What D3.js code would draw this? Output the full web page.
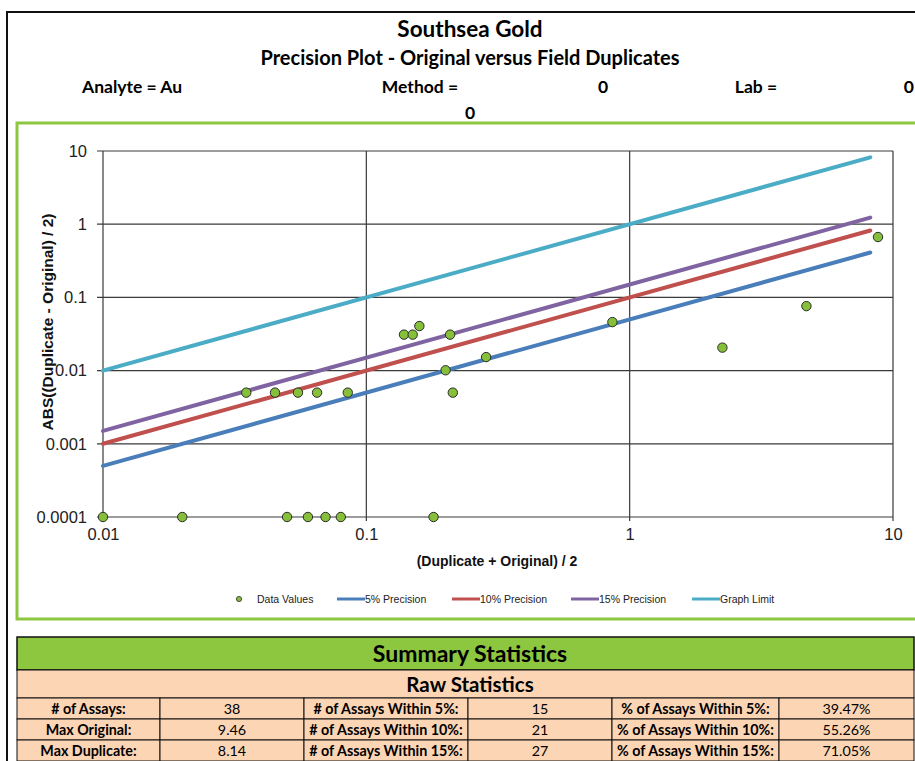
<!DOCTYPE html>
<html>
<head>
<meta charset="utf-8">
<script src="https://cdn.jsdelivr.net/npm/d3@7"></script>
<style>
  body { margin: 0; background: #fff; }
  svg { display: block; }
</style>
</head>
<body>
<div class="chart"></div>
<script>
//Chart values.
var avgValues = [0.01, 0.02, 0.05, 0.06, 0.07, 0.08, 0.18,
  0.035, 0.045, 0.055, 0.065, 0.085,
  0.139, 0.15, 0.159, 0.208, 0.2, 0.213,
  0.285, 0.86, 2.25, 4.69, 8.77];
var halfDiffValues = [0.0001, 0.0001, 0.0001, 0.0001, 0.0001, 0.0001, 0.0001,
  0.005, 0.005, 0.005, 0.005, 0.005,
  0.031, 0.031, 0.0406, 0.031, 0.0101, 0.005,
  0.0153, 0.046, 0.0206, 0.076, 0.668];

var lineNames = ["5% Precision", "10% Precision", "15% Precision", "Graph Limit"];
var lineFactors = [0.05, 0.10, 0.15, 1];
var lineRange = [0.01, 8.2];

var xTicks = [0.01, 0.1, 1, 10];
var xTickLabels = ["0.01", "0.1", "1", "10"];
var yTicks = [0.0001, 0.001, 0.01, 0.1, 1, 10];
var yTickLabels = ["0.0001", "0.001", "0.01", "0.1", "1", "10"];

var headerLines = ["Southsea Gold", "Precision Plot - Original versus Field Duplicates"];
var statLabels1 = ["# of Assays:", "Max Original:", "Max Duplicate:"];
var statValues1 = ["38", "9.46", "8.14"];
var statLabels2 = ["# of Assays Within 5%:", "# of Assays Within 10%:", "# of Assays Within 15%:"];
var statValues2 = ["15", "21", "27"];
var statLabels3 = ["% of Assays Within 5%:", "% of Assays Within 10%:", "% of Assays Within 15%:"];
var statValues3 = ["39.47%", "55.26%", "71.05%"];

//Colours
var lineColors = ["#4A7EBB", "#C0504D", "#8064A2", "#4BACC6"];
var pointFill = "#86BF3A";
var frameGreen = "#8DC63F";
var peach = "#FCD5B4";
var calibri = "Lato, 'Open Sans', sans-serif";
var arial = "'Liberation Sans', Arial, sans-serif";

var svgWidth = 915;
var svgHeight = 761;

var svg = d3.select(".chart")
  .append("svg")
  .attr("width", svgWidth)
  .attr("height", svgHeight);

//Outer sheet border (runs off to the right like the original).
svg.append("rect")
  .attr("x", 7).attr("y", 12)
  .attr("width", 1000).attr("height", 800)
  .attr("fill", "none")
  .attr("stroke", "#111")
  .attr("stroke-width", 2);

//Header texts
svg.append("text")
  .attr("x", 470).attr("y", 37)
  .attr("text-anchor", "middle")
  .style("font", "bold 22.5px " + calibri)
  .text(headerLines[0]);

svg.append("text")
  .attr("x", 470).attr("y", 65)
  .attr("text-anchor", "middle")
  .style("font", "bold 20px " + calibri)
  .text(headerLines[1]);

var infoRow = [
  {t: "Analyte = Au", x: 82, y: 93, a: "start"},
  {t: "Method =", x: 420, y: 93, a: "middle"},
  {t: "0", x: 603, y: 93, a: "middle"},
  {t: "Lab =", x: 756, y: 93, a: "middle"},
  {t: "0", x: 914, y: 93, a: "end"},
  {t: "0", x: 470, y: 119, a: "middle"}
];
svg.selectAll(".info")
  .data(infoRow)
  .enter().append("text")
  .attr("class", "info")
  .attr("x", function(d) { return d.x; })
  .attr("y", function(d) { return d.y; })
  .attr("text-anchor", function(d) { return d.a; })
  .style("font", "bold 17.5px " + calibri)
  .text(function(d) { return d.t; });

//Chart frame
svg.append("rect")
  .attr("x", 17).attr("y", 123)
  .attr("width", 1000).attr("height", 496)
  .attr("fill", "#fff")
  .attr("stroke", frameGreen)
  .attr("stroke-width", 3);

//Plot area
var margin = {top: 151, left: 103};
var chartWidth = 790;
var chartHeight = 366;

var chart = svg.append("g")
  .attr("transform", "translate(" + margin.left + "," + margin.top + ")");

var xScale = d3.scaleLog().domain([0.01, 10]).range([0, chartWidth]);
var yScale = d3.scaleLog().domain([0.0001, 10]).range([chartHeight, 0]);

//Gridlines
chart.selectAll(".vgrid")
  .data(xTicks)
  .enter().append("line")
  .attr("x1", function(d) { return xScale(d); })
  .attr("x2", function(d) { return xScale(d); })
  .attr("y1", 0).attr("y2", chartHeight + 4)
  .attr("stroke", "#3a3a3a").attr("stroke-width", 1.2);

chart.selectAll(".hgrid")
  .data(yTicks)
  .enter().append("line")
  .attr("x1", -6).attr("x2", chartWidth)
  .attr("y1", function(d) { return yScale(d); })
  .attr("y2", function(d) { return yScale(d); })
  .attr("stroke", "#3a3a3a").attr("stroke-width", 1.2);

//Tick labels
var bottomAxis = d3.axisBottom(xScale)
  .tickValues(xTicks)
  .tickFormat(function(d, i) { return xTickLabels[i]; })
  .tickSize(0).tickPadding(11);
var leftAxis = d3.axisLeft(yScale)
  .tickValues(yTicks)
  .tickFormat(function(d, i) { return yTickLabels[i]; })
  .tickSize(0).tickPadding(16);

var gx = chart.append("g")
  .attr("transform", "translate(0," + chartHeight + ")")
  .call(bottomAxis);
var gy = chart.append("g").call(leftAxis);
[gx, gy].forEach(function(g) {
  g.select(".domain").remove();
  g.selectAll("text")
    .style("font", "16.5px " + arial)
    .attr("fill", "#222");
});

//Axis titles
svg.append("text")
  .attr("transform", "translate(53,322) rotate(-90)")
  .attr("text-anchor", "middle")
  .style("font", "bold 15.5px " + arial)
  .attr("fill", "#111")
  .text("ABS((Duplicate - Original) / 2)");

svg.append("text")
  .attr("x", 497).attr("y", 566)
  .attr("text-anchor", "middle")
  .style("font", "bold 14px " + arial)
  .attr("fill", "#111")
  .text("(Duplicate + Original) / 2");

//Precision lines
var lineGen = d3.line()
  .x(function(d) { return xScale(d[0]); })
  .y(function(d) { return yScale(d[1]); });

chart.selectAll(".precision")
  .data(lineFactors)
  .enter().append("path")
  .attr("class", "precision")
  .attr("d", function(f) {
    return lineGen(lineRange.map(function(v) { return [v, v * f]; }));
  })
  .attr("fill", "none")
  .attr("stroke", function(d, i) { return lineColors[i]; })
  .attr("stroke-width", 4)
  .attr("stroke-linecap", "round");

//Data points
chart.selectAll(".pt")
  .data(avgValues)
  .enter().append("circle")
  .attr("class", "pt")
  .attr("cx", function(d) { return xScale(d); })
  .attr("cy", function(d, i) { return yScale(halfDiffValues[i]); })
  .attr("r", 4.7)
  .attr("fill", pointFill)
  .attr("stroke", "#2b2b2b")
  .attr("stroke-width", 1);

//Legend
var legendItems = [
  {name: "Data Values", x: 239, type: "point"},
  {name: lineNames[0], x: 337, type: 0},
  {name: lineNames[1], x: 452, type: 1},
  {name: lineNames[2], x: 571, type: 2},
  {name: lineNames[3], x: 692, type: 3}
];
var legend = svg.append("g").attr("transform", "translate(0,599)");
legendItems.forEach(function(d) {
  if (d.type === "point") {
    legend.append("circle")
      .attr("cx", d.x).attr("cy", 0).attr("r", 2.6)
      .attr("fill", pointFill).attr("stroke", "#2b2b2b").attr("stroke-width", 0.8);
    legend.append("text")
      .attr("x", d.x + 18).attr("y", 3.5)
      .style("font", "10.5px " + arial)
      .attr("fill", "#222")
      .text(d.name);
  } else {
    legend.append("line")
      .attr("x1", d.x).attr("x2", d.x + 28)
      .attr("y1", 0).attr("y2", 0)
      .attr("stroke", lineColors[d.type]).attr("stroke-width", 3);
    legend.append("text")
      .attr("x", d.x + 28).attr("y", 3.5)
      .style("font", "10.5px " + arial)
      .attr("fill", "#222")
      .text(d.name);
  }
});

//Summary table
var tableLeft = 17, tableRight = 914;
var colEdges = [17, 160, 304, 468, 612, 779, 914];
var rowEdges = [698, 719, 740, 761];

svg.append("rect")
  .attr("x", tableLeft).attr("y", 637)
  .attr("width", tableRight - tableLeft).attr("height", 33)
  .attr("fill", frameGreen).attr("stroke", "#111").attr("stroke-width", 1.5);
svg.append("text")
  .attr("x", 470).attr("y", 662)
  .attr("text-anchor", "middle")
  .style("font", "bold 23px " + calibri)
  .text("Summary Statistics");

svg.append("rect")
  .attr("x", tableLeft).attr("y", 670)
  .attr("width", tableRight - tableLeft).attr("height", 28)
  .attr("fill", peach).attr("stroke", "#111").attr("stroke-width", 1);
svg.append("text")
  .attr("x", 470).attr("y", 692)
  .attr("text-anchor", "middle")
  .style("font", "bold 20.5px " + calibri)
  .text("Raw Statistics");

var columns = [statLabels1, statValues1, statLabels2, statValues2, statLabels3, statValues3];
var tableG = svg.append("g");
columns.forEach(function(col, c) {
  col.forEach(function(txt, r) {
    var x0 = colEdges[c], x1 = colEdges[c + 1];
    var y0 = rowEdges[r], y1 = (r + 1 < rowEdges.length) ? rowEdges[r + 1] : 762;
    tableG.append("rect")
      .attr("x", x0).attr("y", y0)
      .attr("width", x1 - x0).attr("height", y1 - y0)
      .attr("fill", peach).attr("stroke", "#111").attr("stroke-width", 1);
    tableG.append("text")
      .attr("x", (x0 + x1) / 2).attr("y", y0 + 16)
      .attr("text-anchor", "middle")
      .style("font", (c % 2 === 0 ? "bold " : "") + "14.3px " + calibri)
      .text(txt);
  });
});
</script>
</body>
</html>
